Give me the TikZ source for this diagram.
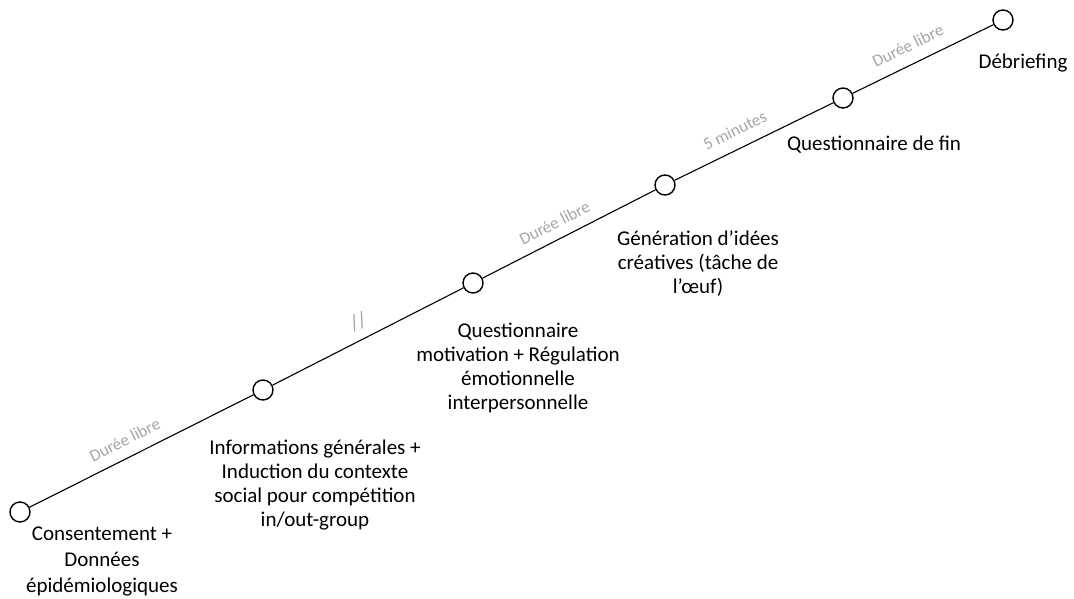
\documentclass[tikz,border=0pt]{standalone}
\usepackage{fontspec}
\setmainfont{Carlito}
\definecolor{durgray}{HTML}{A6A6A6}
\begin{document}
\begin{tikzpicture}[x=1pt,y=-1pt,
  stage/.style={circle,draw,line width=1.4pt,fill=white,minimum size=20pt,inner sep=0pt},
  desc/.style={align=center,anchor=north,inner sep=0pt,font=\fontsize{21}{24}\selectfont},
  dur/.style={sloped,inner sep=0pt,text=durgray,font=\fontsize{17}{20}\selectfont},
  tl/.style={line width=1.1pt}]
\useasboundingbox (0,0) rectangle (1074,598);
% stages
\node[stage] (c1) at (20,512) {};
\node[stage] (c2) at (263,390) {};
\node[stage] (c3) at (473,283) {};
\node[stage] (c4) at (665,185) {};
\node[stage] (c5) at (843,98) {};
\node[stage] (c6) at (1003,20) {};
% timeline
\draw[tl] (c1) -- (c2) node[dur,pos=0.46,above=11pt] (d1) {Durée libre};
\draw[tl] (c2) -- (c3) node[dur,pos=0.49,above=9pt,font=\fontsize{22}{24}\selectfont] (d2) {//};
\draw[tl] (c3) -- (c4) node[dur,pos=0.46,above=10pt] (d3) {Durée libre};
\draw[tl] (c4) -- (c5) node[dur,pos=0.43,above=12pt] (d4) {5 minutes};
\draw[tl] (c5) -- (c6) node[dur,pos=0.45,above=12pt] (d5) {Durée libre};
% descriptions (north = first baseline - 0.7*baselineskip)
\node[desc,font=\fontsize{21}{26}\selectfont] (t1) at (102,521.8) {\strut Consentement +\\Données\\épidémiologiques};
\node[desc] (t2) at (315,437.2) {\strut Informations générales +\\Induction du contexte\\social pour compétition\\in/out-group};
\node[desc] (t3) at (518,320.2) {\strut Questionnaire\\motivation + Régulation\\émotionnelle\\interpersonnelle};
\node[desc] (t4) at (698,228.2) {\strut Génération d’idées\\créatives (tâche de\\l’œuf)};
\node[desc] (t5) at (874,133.2) {\strut Questionnaire de fin};
\node[desc] (t6) at (1023,51.2) {\strut Débriefing};
\end{tikzpicture}
\end{document}
